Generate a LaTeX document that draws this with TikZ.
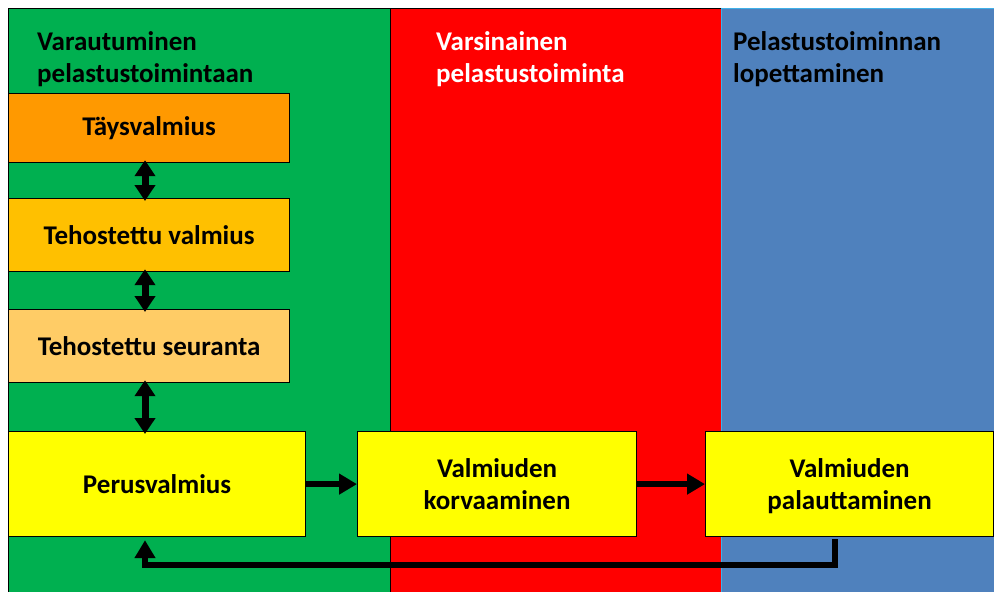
\documentclass[tikz,border=0pt]{standalone}
\usepackage{fontspec}
\setmainfont{Carlito}
\usetikzlibrary{arrows.meta}
\definecolor{cgreen}{HTML}{00B050}
\definecolor{cred}{HTML}{FF0000}
\definecolor{cblue}{HTML}{4F81BD}
\definecolor{cblueedge}{HTML}{3FB0E8}
\definecolor{corange}{HTML}{FF9900}
\definecolor{camber}{HTML}{FFC000}
\definecolor{clight}{HTML}{FFCC66}
\definecolor{cyellow}{HTML}{FFFF00}
\tikzset{
  box/.style={draw=black, line width=1.2pt, anchor=north west, inner sep=0pt,
    align=center, font=\fontsize{27}{32}\selectfont\bfseries},
  title/.style={anchor=north west, inner sep=0pt, align=left,
    font=\fontsize{27}{32}\selectfont\bfseries},
  dbl/.style={line width=7pt, {Triangle[width=20pt,length=16pt]}-{Triangle[width=20pt,length=16pt]}, shorten <=-3pt, shorten >=-3pt},
  fwd/.style={line width=6.5pt, -{Triangle[width=20pt,length=18pt]}},
  ret/.style={line width=6pt, line join=miter, -{Triangle[width=20pt,length=18pt]}}
}
\begin{document}
\begin{tikzpicture}[x=1pt,y=-1pt]
\useasboundingbox (0,0) rectangle (994,592);
% columns
\fill[white] (0,0) rectangle (994,592);
\filldraw[fill=cgreen, draw=black, line width=0.8pt] (8,8) rectangle (390,600);
\filldraw[fill=cred, draw=black, line width=0.8pt] (390,8) rectangle (721,600);
\filldraw[fill=cblue, draw=cblueedge, line width=0.8pt] (721,8) rectangle (1000,600);
% titles
\node[title] (t1) at (37,31) {Varautuminen\\pelastustoimintaan};
\node[title, text=white] (t2) at (436,31) {Varsinainen\\pelastustoiminta};
\node[title] (t3) at (733,31) {Pelastustoiminnan\\lopettaminen};
% boxes
\node[box, fill=corange, minimum width=281pt, minimum height=69pt] (tv) at (8,93) {Täysvalmius};
\node[box, fill=camber, minimum width=281pt, minimum height=73pt] (hv) at (8,198) {Tehostettu valmius};
\node[box, fill=clight, minimum width=281pt, minimum height=73pt] (hs) at (8,309) {Tehostettu seuranta};
\node[box, fill=cyellow, minimum width=297pt, minimum height=105pt] (pv) at (8,431) {Perusvalmius};
\node[box, fill=cyellow, minimum width=279pt, minimum height=105pt] (kv) at (357,431) {Valmiuden\\korvaaminen};
\node[box, fill=cyellow, minimum width=288pt, minimum height=105pt] (pa) at (705,431) {Valmiuden\\\smash{p}alauttaminen};
% arrow column
\coordinate (col) at (145,0);
\draw[dbl] (tv.south -| col) -- (hv.north -| col);
\draw[dbl] (hv.south -| col) -- (hs.north -| col);
\draw[dbl] (hs.south -| col) -- (pv.north -| col);
\draw[fwd] (pv) -- (kv);
\draw[fwd] (kv) -- (pa);
\coordinate (rs) at (835,539);
\coordinate (rc) at (835,565);
\draw[ret] (rs) -- (rc) -| ([yshift=-3pt]pv.south -| col);
\end{tikzpicture}
\end{document}
